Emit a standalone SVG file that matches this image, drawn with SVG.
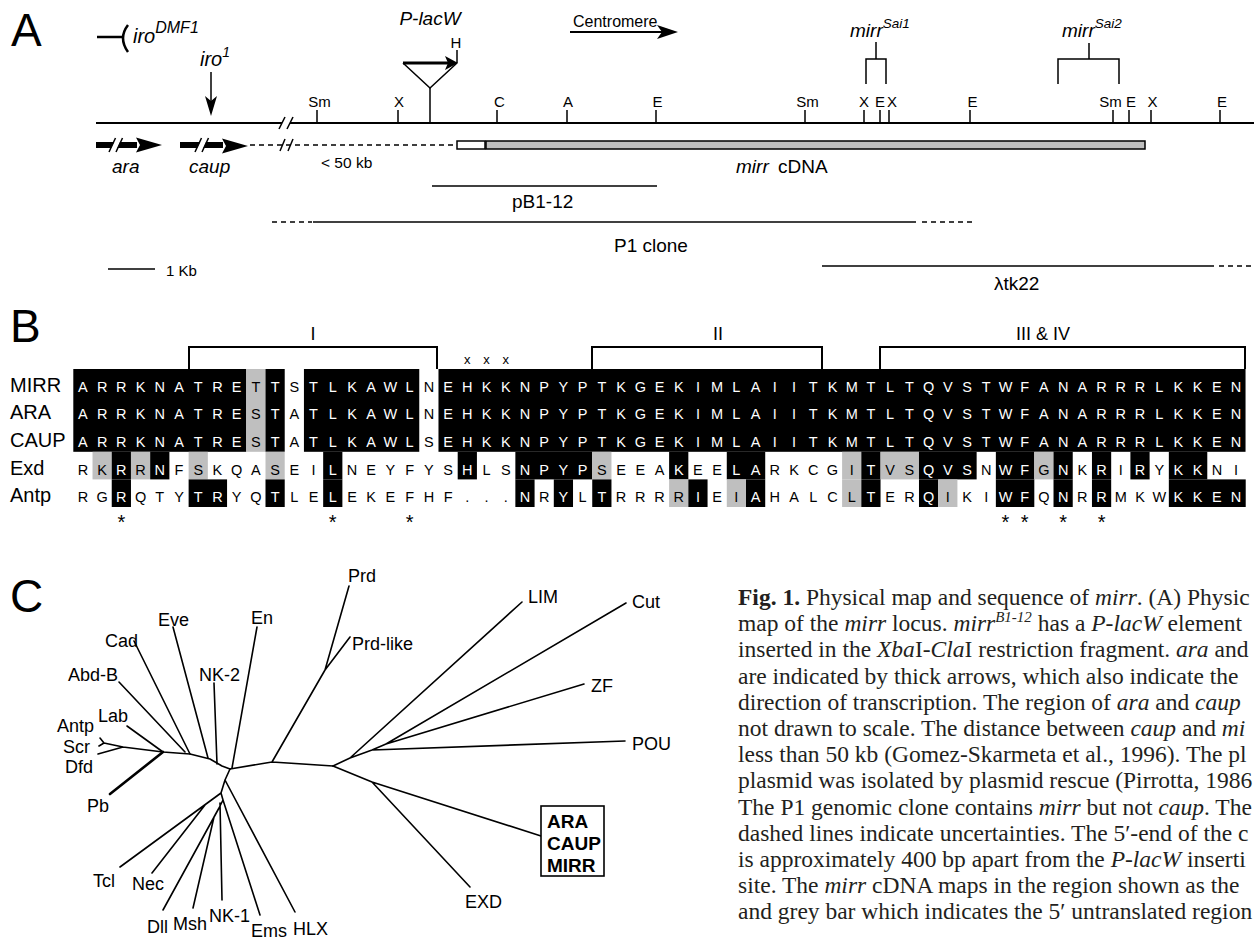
<svg xmlns="http://www.w3.org/2000/svg" width="1254" height="941" viewBox="0 0 1254 941">
<style>
text{font-family:"Liberation Sans",Arial,sans-serif;fill:#000}
.it{font-style:italic}
.pl{font-size:46px}
.re{font-size:15px;text-anchor:middle}
.ln{stroke:#000;fill:none;stroke-width:1.5}
.mainln{stroke:#000;fill:none;stroke-width:2}
.dash{stroke-dasharray:5 4}
.aa{font-size:14.5px;text-anchor:middle}
.w{fill:#fff}
.rl{font-size:20px}
.tr{stroke:#000;stroke-width:1.6;fill:none;stroke-linejoin:round;stroke-linecap:round}
.tl{font-size:18px}
.cap{font-family:"Liberation Serif","Times New Roman",serif;font-size:23.5px;fill:#231f20}
.blk{fill:#000}
.gry{fill:#bfbfbf}
</style>
<rect width="1254" height="941" fill="#fff"/>

<!-- Panel A -->
<g id="panelA">
<text class="pl" x="11" y="46">A</text>
<g id="iroDMF1">
<line class="mainln" x1="97" y1="37" x2="123" y2="37" style="stroke-width:2.5"/>
<path d="M128 25 Q118 38 128 52" class="mainln" style="stroke-width:2.5"/>
<text class="it" x="133" y="43" font-size="20">iro<tspan font-size="16" dy="-10">DMF1</tspan></text>
</g>
<g id="iro1">
<text class="it" x="200" y="66" font-size="20">iro<tspan font-size="14" dy="-9">1</tspan></text>
<line class="ln" x1="211" y1="72" x2="211" y2="104"/>
<path d="M211 116 L205 96 L211 101 L217 96 Z" class="blk"/>
</g>
<g id="centromere">
<text x="573" y="27" font-size="16">Centromere</text>
<line class="ln" x1="570" y1="32" x2="664" y2="32" style="stroke-width:2"/>
<path d="M678 32 L657 25 L662 32 L657 39 Z" class="blk"/>
</g>
<g id="plaw">
<text class="it" x="430" y="25" font-size="19" text-anchor="middle">P-lacW</text>
<path d="M403 63 L430 88 L457 63" class="ln"/>
<line class="ln" x1="430" y1="88" x2="430" y2="123"/>
<line x1="403" y1="63" x2="448" y2="63" stroke="#000" stroke-width="3"/>
<path d="M458 63 L445 56 L448 63 L445 70 Z" class="blk"/>
<line class="ln" x1="457" y1="50" x2="457" y2="63"/>
<text class="re" x="456" y="48">H</text>
</g>
<g id="mainline">
<line class="mainln" x1="96" y1="123" x2="282" y2="123"/>
<line class="mainln" x1="290" y1="123" x2="1254" y2="123"/>
<line class="ln" x1="279" y1="129" x2="285" y2="117"/>
<line class="ln" x1="287" y1="129" x2="293" y2="117"/>
<path class="ln" d="M317 110V123M398 110V123M497 110V123M567 110V123M656 110V123M805 110V123M864 110V123M880 110V123M889 110V123M970 110V123M1113 110V123M1129 110V123M1151 110V123M1220 110V123"/>
<text class="re" x="319.5" y="107">Sm</text>
<text class="re" x="399" y="107">X</text>
<text class="re" x="499.5" y="107">C</text>
<text class="re" x="568" y="107">A</text>
<text class="re" x="657.5" y="107">E</text>
<text class="re" x="807.5" y="107">Sm</text>
<text class="re" x="864" y="107">X</text>
<text class="re" x="880" y="107">E</text>
<text class="re" x="892" y="107">X</text>
<text class="re" x="972.5" y="107">E</text>
<text class="re" x="1110.5" y="107">Sm</text>
<text class="re" x="1131" y="107">E</text>
<text class="re" x="1152.5" y="107">X</text>
<text class="re" x="1222" y="107">E</text>
</g>
<g id="mirrSai1">
<text class="it" x="850" y="37" font-size="19">mirr<tspan font-size="13.5" dy="-9">Sai1</tspan></text>
<path class="ln" d="M876 42V59M866 84V59H886V84"/>
</g>
<g id="mirrSai2">
<text class="it" x="1062" y="37" font-size="19">mirr<tspan font-size="13.5" dy="-9">Sai2</tspan></text>
<path class="ln" d="M1089 43V59M1058 84V59H1119V84"/>
</g>
<g id="ara">
<path class="blk" d="M96 142H114L111.3 148H96Z"/>
<path class="blk" d="M120 142H137V148H117.3Z"/>
<path class="blk" d="M136 137.5L162 145L136 152.5L140 145Z"/>
<line class="ln" x1="109" y1="152" x2="115.5" y2="138"/>
<line class="ln" x1="116" y1="152" x2="122.5" y2="138"/>
<text class="it" x="112" y="173" font-size="19">ara</text>
</g>
<g id="caup">
<path class="blk" d="M180 142H200L197.3 148H180Z"/>
<path class="blk" d="M206 142H223V148H203.3Z"/>
<path class="blk" d="M222 138.5L248 146L222 153.5L226 146Z"/>
<line class="ln" x1="195" y1="152" x2="201.5" y2="138"/>
<line class="ln" x1="202" y1="152" x2="208.5" y2="138"/>
<text class="it" x="189" y="173" font-size="19">caup</text>
</g>
<g id="gap">
<line class="ln dash" x1="250" y1="145" x2="457" y2="145"/>
<line class="ln" x1="280" y1="151" x2="285" y2="139"/>
<line class="ln" x1="288" y1="151" x2="293" y2="139"/>
<text x="321" y="168" font-size="15.5">&lt; 50 kb</text>
</g>
<g id="cdna">
<rect x="457" y="141" width="28" height="8" fill="#fff" stroke="#000" stroke-width="1.5"/>
<rect x="486" y="141" width="659" height="8" fill="#bfbfbf" stroke="#000" stroke-width="1.5"/>
<text x="736" y="173" font-size="19"><tspan class="it">mirr</tspan><tspan x="778">cDNA</tspan></text>
</g>
<g id="pB1-12">
<line class="ln" x1="432" y1="186" x2="657" y2="186"/>
<text x="512" y="208" font-size="19">pB1-12</text>
</g>
<g id="P1clone">
<line class="ln dash" x1="272" y1="222" x2="312" y2="222"/>
<line class="ln" x1="313" y1="222" x2="916" y2="222"/>
<line class="ln dash" x1="922" y1="222" x2="972" y2="222"/>
<text x="614" y="252" font-size="19">P1 clone</text>
</g>
<g id="ltk22">
<line class="ln" x1="822" y1="266" x2="1214" y2="266"/>
<line class="ln dash" x1="1219" y1="266" x2="1254" y2="266"/>
<text x="994" y="290" font-size="19">λtk22</text>
</g>
<g id="scale">
<line class="ln" x1="108" y1="269" x2="155" y2="269"/>
<text x="166" y="276" font-size="15">1 Kb</text>
</g>
</g>

<!-- Panel B -->
<g id="panelB">
<text class="pl" x="10" y="342">B</text>
<g id="brackets">
<path class="mainln" d="M189 369V347H437V369"/>
<path class="mainln" d="M592 369V347H822V369"/>
<path class="mainln" d="M880 369V347H1245V369"/>
<text x="313" y="340" font-size="18" text-anchor="middle">I</text>
<text x="718" y="340" font-size="18" text-anchor="middle">II</text>
<text x="1043" y="340" font-size="18" text-anchor="middle">III &amp; IV</text>
<text x="467.31 486.53 505.75" y="364" font-size="13" text-anchor="middle">xxx</text>
</g>
<g id="shading">
<rect class="blk" x="73.3" y="369" width="172.98" height="82.8"/>
<rect class="gry" x="246.28" y="369" width="19.22" height="82.8"/>
<rect class="blk" x="265.5" y="369" width="19.22" height="82.8"/>
<rect class="blk" x="303.94" y="369" width="115.32" height="82.8"/>
<rect class="blk" x="438.48" y="369" width="807.06" height="82.8"/>
<rect class="gry" x="92.52" y="451.8" width="19.22" height="27.6"/>
<rect class="blk" x="111.74" y="451.8" width="19.22" height="27.6"/>
<rect class="gry" x="130.96" y="451.8" width="19.22" height="27.6"/>
<rect class="blk" x="150.18" y="451.8" width="19.22" height="27.6"/>
<rect class="gry" x="188.62" y="451.8" width="19.22" height="27.6"/>
<rect class="gry" x="265.5" y="451.8" width="19.22" height="27.6"/>
<rect class="blk" x="323.16" y="451.8" width="19.22" height="27.6"/>
<rect class="blk" x="457.7" y="451.8" width="19.22" height="27.6"/>
<rect class="blk" x="515.36" y="451.8" width="76.88" height="27.6"/>
<rect class="gry" x="592.24" y="451.8" width="19.22" height="27.6"/>
<rect class="blk" x="669.12" y="451.8" width="19.22" height="27.6"/>
<rect class="blk" x="726.78" y="451.8" width="38.44" height="27.6"/>
<rect class="gry" x="842.1" y="451.8" width="19.22" height="27.6"/>
<rect class="blk" x="861.32" y="451.8" width="19.22" height="27.6"/>
<rect class="gry" x="880.54" y="451.8" width="38.44" height="27.6"/>
<rect class="blk" x="918.98" y="451.8" width="57.66" height="27.6"/>
<rect class="blk" x="995.86" y="451.8" width="38.44" height="27.6"/>
<rect class="gry" x="1034.3" y="451.8" width="19.22" height="27.6"/>
<rect class="blk" x="1053.52" y="451.8" width="19.22" height="27.6"/>
<rect class="blk" x="1091.96" y="451.8" width="19.22" height="27.6"/>
<rect class="blk" x="1130.4" y="451.8" width="19.22" height="27.6"/>
<rect class="blk" x="1168.84" y="451.8" width="38.44" height="27.6"/>
<rect class="blk" x="111.74" y="479.4" width="19.22" height="27.6"/>
<rect class="blk" x="188.62" y="479.4" width="38.44" height="27.6"/>
<rect class="blk" x="265.5" y="479.4" width="19.22" height="27.6"/>
<rect class="blk" x="323.16" y="479.4" width="19.22" height="27.6"/>
<rect class="blk" x="515.36" y="479.4" width="19.22" height="27.6"/>
<rect class="blk" x="553.8" y="479.4" width="19.22" height="27.6"/>
<rect class="blk" x="592.24" y="479.4" width="19.22" height="27.6"/>
<rect class="gry" x="669.12" y="479.4" width="19.22" height="27.6"/>
<rect class="blk" x="688.34" y="479.4" width="19.22" height="27.6"/>
<rect class="gry" x="726.78" y="479.4" width="19.22" height="27.6"/>
<rect class="blk" x="746" y="479.4" width="19.22" height="27.6"/>
<rect class="gry" x="842.1" y="479.4" width="19.22" height="27.6"/>
<rect class="blk" x="861.32" y="479.4" width="19.22" height="27.6"/>
<rect class="blk" x="918.98" y="479.4" width="19.22" height="27.6"/>
<rect class="gry" x="938.2" y="479.4" width="19.22" height="27.6"/>
<rect class="blk" x="995.86" y="479.4" width="38.44" height="27.6"/>
<rect class="blk" x="1053.52" y="479.4" width="19.22" height="27.6"/>
<rect class="blk" x="1091.96" y="479.4" width="19.22" height="27.6"/>
<rect class="blk" x="1168.84" y="479.4" width="76.88" height="27.6"/>
</g>
<g id="rowlabels">
<text class="rl" x="10" y="391.7">MIRR</text>
<text class="rl" x="10" y="419.3">ARA</text>
<text class="rl" x="10" y="446.9">CAUP</text>
<text class="rl" x="10" y="474.5">Exd</text>
<text class="rl" x="10" y="502.1">Antp</text>
</g>
<g id="residues">
<text class="aa" y="391.7"><tspan class="w" x="82.91 102.13 121.35 140.57 159.79 179.01 198.23 217.45 236.67">ARRKNATRE</tspan><tspan x="255.89">T</tspan><tspan class="w" x="275.11">T</tspan><tspan x="294.33">S</tspan><tspan class="w" x="313.55 332.77 351.99 371.21 390.43 409.65">TLKAWL</tspan><tspan x="428.87">N</tspan><tspan class="w" x="448.09 467.31 486.53 505.75 524.97 544.19 563.41 582.63 601.85 621.07 640.29 659.51 678.73 697.95 717.17 736.39 755.61 774.83 794.05 813.27 832.49 851.71 870.93 890.15 909.37 928.59 947.81 967.03 986.25 1005.47 1024.69 1043.91 1063.13 1082.35 1101.57 1120.79 1140.01 1159.23 1178.45 1197.67 1216.89 1236.11">EHKKNPYPTKGEKIMLAIITKMTLTQVSTWFANARRRLKKEN</tspan></text>
<text class="aa" y="419.3"><tspan class="w" x="82.91 102.13 121.35 140.57 159.79 179.01 198.23 217.45 236.67">ARRKNATRE</tspan><tspan x="255.89">S</tspan><tspan class="w" x="275.11">T</tspan><tspan x="294.33">A</tspan><tspan class="w" x="313.55 332.77 351.99 371.21 390.43 409.65">TLKAWL</tspan><tspan x="428.87">N</tspan><tspan class="w" x="448.09 467.31 486.53 505.75 524.97 544.19 563.41 582.63 601.85 621.07 640.29 659.51 678.73 697.95 717.17 736.39 755.61 774.83 794.05 813.27 832.49 851.71 870.93 890.15 909.37 928.59 947.81 967.03 986.25 1005.47 1024.69 1043.91 1063.13 1082.35 1101.57 1120.79 1140.01 1159.23 1178.45 1197.67 1216.89 1236.11">EHKKNPYPTKGEKIMLAIITKMTLTQVSTWFANARRRLKKEN</tspan></text>
<text class="aa" y="446.9"><tspan class="w" x="82.91 102.13 121.35 140.57 159.79 179.01 198.23 217.45 236.67">ARRKNATRE</tspan><tspan x="255.89">S</tspan><tspan class="w" x="275.11">T</tspan><tspan x="294.33">A</tspan><tspan class="w" x="313.55 332.77 351.99 371.21 390.43 409.65">TLKAWL</tspan><tspan x="428.87">S</tspan><tspan class="w" x="448.09 467.31 486.53 505.75 524.97 544.19 563.41 582.63 601.85 621.07 640.29 659.51 678.73 697.95 717.17 736.39 755.61 774.83 794.05 813.27 832.49 851.71 870.93 890.15 909.37 928.59 947.81 967.03 986.25 1005.47 1024.69 1043.91 1063.13 1082.35 1101.57 1120.79 1140.01 1159.23 1178.45 1197.67 1216.89 1236.11">EHKKNPYPTKGEKIMLAIITKMTLTQVSTWFANARRRLKKEN</tspan></text>
<text class="aa" y="474.5"><tspan x="82.91 102.13">RK</tspan><tspan class="w" x="121.35">R</tspan><tspan x="140.57">R</tspan><tspan class="w" x="159.79">N</tspan><tspan x="179.01 198.23 217.45 236.67 255.89 275.11 294.33 313.55">FSKQASEI</tspan><tspan class="w" x="332.77">L</tspan><tspan x="351.99 371.21 390.43 409.65 428.87 448.09">NEYFYS</tspan><tspan class="w" x="467.31">H</tspan><tspan x="486.53 505.75">LS</tspan><tspan class="w" x="524.97 544.19 563.41 582.63">NPYP</tspan><tspan x="601.85 621.07 640.29 659.51">SEEA</tspan><tspan class="w" x="678.73">K</tspan><tspan x="697.95 717.17">EE</tspan><tspan class="w" x="736.39 755.61">LA</tspan><tspan x="774.83 794.05 813.27 832.49 851.71">RKCGI</tspan><tspan class="w" x="870.93">T</tspan><tspan x="890.15 909.37">VS</tspan><tspan class="w" x="928.59 947.81 967.03">QVS</tspan><tspan x="986.25">N</tspan><tspan class="w" x="1005.47 1024.69">WF</tspan><tspan x="1043.91">G</tspan><tspan class="w" x="1063.13">N</tspan><tspan x="1082.35">K</tspan><tspan class="w" x="1101.57">R</tspan><tspan x="1120.79">I</tspan><tspan class="w" x="1140.01">R</tspan><tspan x="1159.23">Y</tspan><tspan class="w" x="1178.45 1197.67">KK</tspan><tspan x="1216.89 1236.11">NI</tspan></text>
<text class="aa" y="502.1"><tspan x="82.91 102.13">RG</tspan><tspan class="w" x="121.35">R</tspan><tspan x="140.57 159.79 179.01">QTY</tspan><tspan class="w" x="198.23 217.45">TR</tspan><tspan x="236.67 255.89">YQ</tspan><tspan class="w" x="275.11">T</tspan><tspan x="294.33 313.55">LE</tspan><tspan class="w" x="332.77">L</tspan><tspan x="351.99 371.21 390.43 409.65 428.87 448.09 467.31 486.53 505.75">EKEFHF...</tspan><tspan class="w" x="524.97">N</tspan><tspan x="544.19">R</tspan><tspan class="w" x="563.41">Y</tspan><tspan x="582.63">L</tspan><tspan class="w" x="601.85">T</tspan><tspan x="621.07 640.29 659.51 678.73">RRRR</tspan><tspan class="w" x="697.95">I</tspan><tspan x="717.17 736.39">EI</tspan><tspan class="w" x="755.61">A</tspan><tspan x="774.83 794.05 813.27 832.49 851.71">HALCL</tspan><tspan class="w" x="870.93">T</tspan><tspan x="890.15 909.37">ER</tspan><tspan class="w" x="928.59">Q</tspan><tspan x="947.81 967.03 986.25">IKI</tspan><tspan class="w" x="1005.47 1024.69">WF</tspan><tspan x="1043.91">Q</tspan><tspan class="w" x="1063.13">N</tspan><tspan x="1082.35">R</tspan><tspan class="w" x="1101.57">R</tspan><tspan x="1120.79 1140.01 1159.23">MKW</tspan><tspan class="w" x="1178.45 1197.67 1216.89 1236.11">KKEN</tspan></text>
<text y="529" font-size="20" text-anchor="middle" x="121.35 332.77 409.65 1005.47 1024.69 1063.13 1101.57">*******</text>
</g>
</g>

<!-- Panel C -->
<g id="panelC">
<text class="pl" x="10" y="612">C</text>
<g id="tree-edges">
<path class="tr" d="M100 738L104 743L99 746M104 743L123 747L98 754M123 747L163 752L190 754L210 759L222 766L230 769"/>
<path class="tr" d="M163 752L127 726"/>
<path class="tr" d="M163 752L110 794" style="stroke-width:2.6"/>
<path class="tr" d="M185 752L119 682M190 754L134 641M208 758L173 627M217 764L214 683M232 768L257 627"/>
<path class="tr" d="M230 769L272 762L333 766M272 762L325 670L349 586M325 670L350 637"/>
<path class="tr" d="M333 766L350 758L372 750L386 744M350 758L522 602M372 750L625 741M386 744L626 603M386 744L584 684"/>
<path class="tr" d="M333 766L372 782L470 887M372 782L541 836"/>
<path class="tr" d="M230 769L225 780L221 793L223 800L219 808L214 817M225 780L295 912M221 793L120 867M205 805L152 873M223 800L260 915M220 803L222 900M219 808L163 910M214 817L193 908"/>
</g>
<g id="tree-labels">
<text class="tl" x="348" y="582">Prd</text>
<text class="tl" x="352" y="650">Prd-like</text>
<text class="tl" x="528" y="603">LIM</text>
<text class="tl" x="632" y="608">Cut</text>
<text class="tl" x="591" y="692">ZF</text>
<text class="tl" x="632" y="750">POU</text>
<text class="tl" x="465" y="908">EXD</text>
<text class="tl" x="158" y="626">Eve</text>
<text class="tl" x="251" y="624">En</text>
<text class="tl" x="105" y="647">Cad</text>
<text class="tl" x="199" y="681">NK-2</text>
<text class="tl" x="68" y="681">Abd-B</text>
<text class="tl" x="98" y="722">Lab</text>
<text class="tl" x="57" y="732">Antp</text>
<text class="tl" x="63" y="753">Scr</text>
<text class="tl" x="65" y="773">Dfd</text>
<text class="tl" x="87" y="812">Pb</text>
<text class="tl" x="93" y="887">Tcl</text>
<text class="tl" x="132" y="890">Nec</text>
<text class="tl" x="147" y="933">Dll</text>
<text class="tl" x="173" y="930">Msh</text>
<text class="tl" x="209" y="922">NK-1</text>
<text class="tl" x="251" y="937">Ems</text>
<text class="tl" x="293" y="935">HLX</text>
</g>
<g id="box">
<rect x="541" y="806" width="63" height="70" fill="#fff" stroke="#000" stroke-width="1.6"/>
<text x="547" y="828" font-size="19" font-weight="bold">ARA</text>
<text x="547" y="850" font-size="19" font-weight="bold">CAUP</text>
<text x="547" y="872" font-size="19" font-weight="bold">MIRR</text>
</g>
</g>

<!-- Caption -->
<g id="caption">
<text class="cap" x="738" y="605"><tspan font-weight="bold">Fig. 1.</tspan> Physical map and sequence of <tspan font-style="italic">mirr</tspan>. (A) Physic</text>
<text class="cap" x="738" y="631.2">map of the <tspan font-style="italic">mirr</tspan> locus. <tspan font-style="italic">mirr</tspan><tspan font-style="italic" font-size="15" dy="-9">B1-12</tspan><tspan dy="9"> has a </tspan><tspan font-style="italic">P-lacW</tspan> element</text>
<text class="cap" x="738" y="657.4">inserted in the <tspan font-style="italic">Xba</tspan>I-<tspan font-style="italic">Cla</tspan>I restriction fragment. <tspan font-style="italic">ara</tspan> and</text>
<text class="cap" x="738" y="683.6">are indicated by thick arrows, which also indicate the</text>
<text class="cap" x="738" y="709.8">direction of transcription. The region of <tspan font-style="italic">ara</tspan> and <tspan font-style="italic">caup</tspan></text>
<text class="cap" x="738" y="736">not drawn to scale. The distance between <tspan font-style="italic">caup</tspan> and <tspan font-style="italic">mi</tspan></text>
<text class="cap" x="738" y="762.2">less than 50 kb (Gomez-Skarmeta et al., 1996). The pl</text>
<text class="cap" x="738" y="788.4">plasmid was isolated by plasmid rescue (Pirrotta, 1986</text>
<text class="cap" x="738" y="814.6">The P1 genomic clone contains <tspan font-style="italic">mirr</tspan> but not <tspan font-style="italic">caup</tspan>. The</text>
<text class="cap" x="738" y="840.8">dashed lines indicate uncertainties. The 5′-end of the c</text>
<text class="cap" x="738" y="867">is approximately 400 bp apart from the <tspan font-style="italic">P-lacW</tspan> inserti</text>
<text class="cap" x="738" y="893.2">site. The <tspan font-style="italic">mirr</tspan> cDNA maps in the region shown as the</text>
<text class="cap" x="738" y="919.4">and grey bar which indicates the 5′ untranslated region</text>
</g>
</svg>
